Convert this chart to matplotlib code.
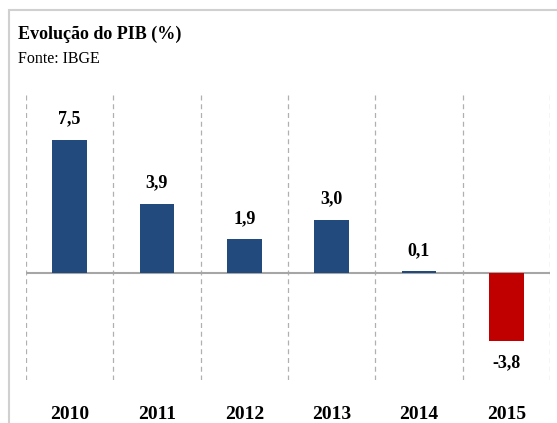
import numpy as np
import matplotlib
matplotlib.use("Agg")
import matplotlib.pyplot as plt
from matplotlib.patches import Rectangle

# dados do PIB
anos = ["2010", "2011", "2012", "2013", "2014", "2015"]
pib = [7.5, 3.9, 1.9, 3.0, 0.1, -3.8]
rotulos = ["7,5", "3,9", "1,9", "3,0", "0,1", "-3,8"]

azul = "#234a7d"
vermelho = "#c00000"
serif = "Liberation Serif"

fig = plt.figure(figsize=(5.57, 4.23), dpi=100)
fig.patch.set_facecolor("white")

# moldura cinza (cortada a direita e embaixo)
fig.add_artist(Rectangle((9 / 557, -0.05), 1.2, 1 - 10 / 423 + 0.05,
                         transform=fig.transFigure, fill=False,
                         edgecolor="#d0d0d0", linewidth=1.5))

ax = fig.add_axes([26 / 557, 1 - 380 / 423, 524 / 557, 285 / 423])
x = np.arange(len(anos))
cores = [azul if v >= 0 else vermelho for v in pib]
ax.bar(x, pib, width=0.40, color=cores, zorder=3)

ax.set_xlim(-0.5, len(anos) - 0.5)
ax.set_ylim(-6.0, 10.0)

# linhas verticais tracejadas entre categorias
for b in np.arange(-0.5, len(anos), 1.0):
    ax.axvline(b, color="#b0b0b0", linestyle=(0, (4, 3)), linewidth=0.9, zorder=1)
ax.axhline(0, color="#a6a6a6", linewidth=1.5, zorder=2)

for xi, v, r in zip(x, pib, rotulos):
    if v >= 0:
        ax.annotate(r, (xi, v), xytext=(0, 9), textcoords="offset points",
                    ha="center", va="bottom", fontsize=13, fontweight="bold",
                    family=serif)
    else:
        ax.annotate(r, (xi, v), xytext=(0, -10), textcoords="offset points",
                    ha="center", va="top", fontsize=13, fontweight="bold",
                    family=serif)

for s in ax.spines.values():
    s.set_visible(False)
ax.set_yticks([])
ax.set_xticks(x)
ax.set_xticklabels(anos, fontsize=14, fontweight="bold", family=serif)
ax.tick_params(axis="x", length=0, pad=19)

fig.text(18 / 557, 1 - 39 / 423, "Evolução do PIB (%)", fontsize=13,
         fontweight="bold", family=serif, ha="left", va="baseline")
fig.text(18 / 557, 1 - 63 / 423, "Fonte: IBGE", fontsize=11.5,
         family=serif, ha="left", va="baseline")

fig.savefig("out.png", dpi=100)
